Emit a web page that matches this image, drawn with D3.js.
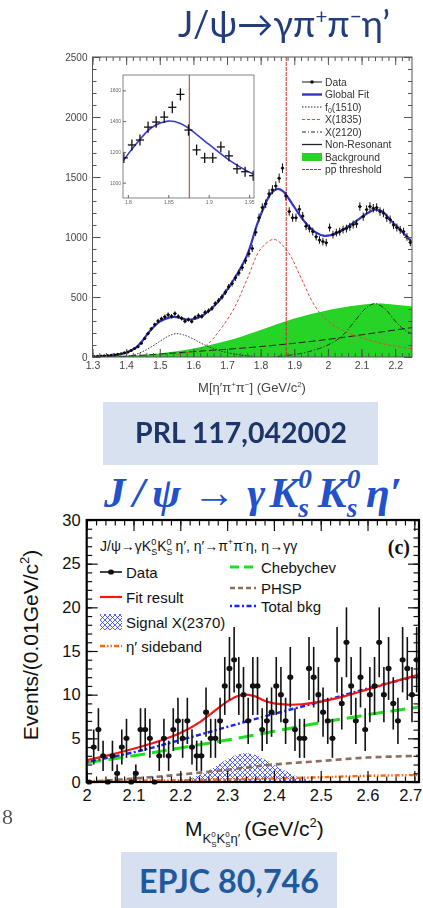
<!DOCTYPE html>
<html>
<head>
<meta charset="utf-8">
<script src="https://cdn.jsdelivr.net/npm/d3@7/dist/d3.min.js"></script>
<style>
html,body{margin:0;padding:0;background:#fff;}
svg{display:block;}
</style>
</head>
<body>
<svg id="page" width="423" height="908"></svg>
<script>
// ---------------- J/psi -> gamma pi+ pi- eta' (events per 10 MeV) ----------------
const ppeBinLow = 1.30;
const ppeBinWidth = 0.01;
const ppeCounts = [
  5, 6, 8, 10, 12, 14, 18, 22, 28, 35,
  42, 55, 70, 85, 115, 155, 195, 235, 270, 300,
  318, 335, 352, 340, 362, 338, 322, 298, 312, 296,
  330, 345, 338, 372, 385, 405, 445, 470, 500, 540,
  585, 612, 660, 700, 745, 805, 860, 905, 1040, 1161,
  1245, 1277, 1361, 1394, 1426, 1490, 1574, 1342, 1213, 1161,
  1161, 1232, 1174, 1090, 1071, 1045, 1003, 975, 962, 953,
  1079, 1020, 1037, 1045, 1062, 1070, 1085, 1104, 1110, 1254,
  1170, 1229, 1254, 1240, 1246, 1212, 1200, 1160, 1145, 1100,
  1079, 1060, 1045, 1000, 955
];
const globalFitMass = [1.30,1.35,1.40,1.43,1.45,1.47,1.50,1.53,1.55,1.58,1.60,1.63,1.66,1.70,1.73,1.76,1.79,1.81,1.83,1.85,1.865,1.876,1.90,1.93,1.96,1.99,2.02,2.05,2.08,2.11,2.14,2.16,2.19,2.22,2.25];
const globalFitEvents = [0,8,35,80,140,215,295,330,333,312,316,350,420,560,690,850,1110,1250,1360,1400,1385,1350,1250,1130,1045,1010,1025,1070,1125,1185,1228,1215,1130,1045,955];
const f0Mass = [1.38,1.42,1.46,1.50,1.53,1.55,1.57,1.60,1.63,1.67,1.72,1.78];
const f0Events = [0,15,60,130,180,195,185,150,105,60,25,5];
const x1835Mass = [1.55,1.60,1.64,1.68,1.72,1.76,1.80,1.84,1.88,1.92,1.96,2.00,2.05,2.10,2.15,2.20,2.25];
const x1835Events = [20,50,100,230,400,650,900,980,880,660,430,300,215,160,120,90,70];
const x2120Mass = [1.85,1.90,1.95,2.00,2.04,2.08,2.11,2.14,2.17,2.20,2.23,2.25];
const x2120Events = [5,20,50,100,170,300,400,445,400,300,220,195];
const nonResMass = [1.35,1.45,1.55,1.65,1.75,1.85,1.95,2.05,2.15,2.25];
const nonResEvents = [0,15,35,55,75,100,130,165,205,245];
const bkgMass = [1.30,1.40,1.50,1.60,1.70,1.80,1.90,2.00,2.10,2.15,2.20,2.25];
const bkgEvents = [0,10,30,70,135,225,320,390,435,445,435,420];
const ppbarThreshold = 1.876;

const ppeXTicks = [1.3,1.4,1.5,1.6,1.7,1.8,1.9,2.0,2.1,2.2];
const ppeXTickLabels = ["1.3","1.4","1.5","1.6","1.7","1.8","1.9","2","2.1","2.2"];
const ppeYTicks = [0,500,1000,1500,2000,2500];
const insetXTicks = [1.8,1.85,1.9,1.95];
const insetXTickLabels = ["1.8","1.85","1.9","1.95"];
const insetYTicks = [1000,1200,1400,1600];
const ppeLegendLabels = ["Data","Global Fit","f0(1510)","X(1835)","X(2120)","Non-Resonant","Background","pp threshold"];

// ---------------- J/psi -> gamma Ks Ks eta' (events per 10 MeV) ----------------
const kkeBinLow = 2.0;
const kkeBinWidth = 0.01;
const kkeCounts = [
  0, 4, 6, 3, 0, 3, 1, 4, 5, 0,
  1, 6, 6, 5, 0, 3, 5, 3, 6, 7,
  5, 7, 4, 3, 3, 8, 5, 5, 7, 11,
  13, 14, 11, 10, 7, 11, 11, 6, 7, 8,
  11, 10, 7, 12, 6, 5, 5, 13, 12, 10,
  8, 7, 5, 14, 9, 16, 11, 7, 12, 6,
  10, 11, 16, 10, 13, 9, 7, 14, 13, 10,
  14
];
const fitResultMass = [2.00,2.05,2.10,2.15,2.20,2.24,2.27,2.30,2.32,2.34,2.36,2.38,2.40,2.43,2.46,2.50,2.55,2.60,2.65,2.71];
const fitResultEvents = [2.5,3.1,3.8,4.6,5.6,6.8,8.0,9.2,9.8,10.0,9.8,9.3,9.0,8.85,8.9,9.2,9.8,10.6,11.4,12.3];
const totalBkgMass = [2.0,2.1,2.2,2.3,2.4,2.5,2.6,2.71];
const totalBkgEvents = [2.3,3.4,4.8,6.3,7.8,9.2,10.7,12.2];
const chebyMass = [2.0,2.1,2.2,2.3,2.4,2.5,2.6,2.71];
const chebyEvents = [2.2,3.0,3.9,4.8,5.8,6.8,7.7,8.6];
const phspMass = [2.0,2.05,2.1,2.15,2.2,2.3,2.4,2.5,2.6,2.71];
const phspEvents = [0,0.2,0.4,0.6,0.85,1.4,2.0,2.4,2.8,3.0];
const sidebandMass = [2.0,2.1,2.2,2.3,2.4,2.5,2.6,2.71];
const sidebandEvents = [0.1,0.15,0.2,0.3,0.4,0.55,0.7,0.8];
const signalMass = [2.18,2.22,2.26,2.29,2.32,2.34,2.36,2.39,2.42,2.45,2.48,2.50];
const signalEvents = [0,0.4,1.3,2.3,3.1,3.3,3.1,2.3,1.4,0.6,0.15,0];

const kkeXTicks = [2.0,2.1,2.2,2.3,2.4,2.5,2.6,2.7];
const kkeXTickLabels = ["2","2.1","2.2","2.3","2.4","2.5","2.6","2.7"];
const kkeYTicks = [0,5,10,15,20,25,30];

// ---------------- helpers ----------------
const svg = d3.select('#page');
const defs = svg.append('defs');
defs.append('filter').attr('id','soft').attr('x','-2%').attr('y','-2%').attr('width','104%').attr('height','104%')
  .append('feGaussianBlur').attr('stdDeviation',0.65);
defs.append('filter').attr('id','softer')
  .append('feGaussianBlur').attr('stdDeviation',0.4);
const hatch = defs.append('pattern').attr('id','xhatch').attr('patternUnits','userSpaceOnUse')
  .attr('width',5).attr('height',5);
hatch.append('path').attr('d','M0,0L5,5M5,0L0,5M-1,4L1,6M4,-1L6,1').attr('stroke','#2a3cff').attr('stroke-width',0.8);

const zip = (a, b) => a.map((v, i) => [v, b[i]]);
const smooth = d3.curveCatmullRom.alpha(0.5);

// Draws a run of text pieces left to right; pieces may be raised, lowered or stacked (sup over sub).
// With base.width set, the whole run is scaled to span that width.
function rich(parent, x, y, parts, base, anchor) {
  const g = parent.append('g')
    .attr('font-family', base.family).attr('font-size', base.size)
    .attr('fill', base.fill || '#000');
  if (base.weight) g.attr('font-weight', base.weight);
  if (base.style) g.attr('font-style', base.style);
  let cx = 0;
  parts.forEach(p => {
    if (p.sup !== undefined || p.sub !== undefined) {
      let w = 0;
      if (p.sup !== undefined) {
        const e = g.append('text').attr('x', cx).attr('y', p.supY).attr('font-size', p.size).text(p.sup);
        if (p.supStyle) e.attr('font-style', p.supStyle);
        w = Math.max(w, e.node().getComputedTextLength());
      }
      if (p.sub !== undefined) {
        const e = g.append('text').attr('x', cx).attr('y', p.subY).attr('font-size', p.size).text(p.sub);
        if (p.subStyle) e.attr('font-style', p.subStyle);
        w = Math.max(w, e.node().getComputedTextLength());
      }
      cx += w + (p.gap || 0);
    } else {
      const e = g.append('text').attr('x', cx).attr('y', p.dy || 0).text(p.t);
      if (p.size) e.attr('font-size', p.size);
      if (p.style) e.attr('font-style', p.style);
      if (p.weight) e.attr('font-weight', p.weight);
      if (p.deco) e.attr('text-decoration', p.deco);
      cx += e.node().getComputedTextLength() + (p.gap || 0);
    }
  });
  const k = base.width ? base.width / cx : 1;
  const w = cx * k;
  const off = anchor === 'middle' ? -w / 2 : anchor === 'end' ? -w : 0;
  g.attr('transform', `translate(${x + off},${y}) scale(${k})`);
  return g;
}

// Sets a text's font size so that it spans the given width.
function fitWidth(textSel, width) {
  const fs = parseFloat(textSel.attr('font-size'));
  const w = textSel.node().getComputedTextLength();
  textSel.attr('font-size', (fs * width / w).toFixed(2));
}

function cleanAxis(sel, color, size, family) {
  sel.select('.domain').remove();
  sel.attr('font-family', null).attr('font-size', null);
  sel.selectAll('line').attr('stroke', color);
  sel.selectAll('text').attr('fill', color).attr('font-size', size).attr('font-family', family);
}

// ---------------- heading ----------------
rich(svg, 284, 37, [
  {t:'J/ψ→γπ'}, {t:'+', size:17, dy:-11}, {t:'π'}, {t:'−', size:17, dy:-11}, {t:'η’'}
], {family:'Lato', size:30, fill:'#213c7c', width:212}, 'middle').attr('filter','url(#softer)');

// ---------------- upper plot: M(eta' pi+ pi-) ----------------
const T = {l:92.5, r:412, t:57, b:357};
const xT = d3.scaleLinear().domain([1.3, 2.25]).range([T.l, T.r]);
const yT = d3.scaleLinear().domain([0, 2500]).range([T.b, T.t]);
const gT = svg.append('g').attr('filter','url(#soft)');
defs.append('clipPath').attr('id','clipT').append('rect')
  .attr('x',T.l).attr('y',T.t).attr('width',T.r-T.l).attr('height',T.b-T.t);
const plotT = gT.append('g').attr('clip-path','url(#clipT)');
const lineT = d3.line().x(d => xT(d[0])).y(d => yT(d[1])).curve(smooth);

plotT.append('path').datum(zip(bkgMass, bkgEvents))
  .attr('d', d3.area().x(d => xT(d[0])).y0(yT(0)).y1(d => yT(d[1])).curve(smooth))
  .attr('fill', '#25d325');
plotT.append('path').datum(zip(nonResMass, nonResEvents)).attr('d', lineT)
  .attr('fill','none').attr('stroke','#222').attr('stroke-width',1).attr('stroke-dasharray','7,3');
plotT.append('path').datum(zip(x2120Mass, x2120Events)).attr('d', lineT)
  .attr('fill','none').attr('stroke','#222').attr('stroke-width',0.9).attr('stroke-dasharray','5,2,1,2');
plotT.append('path').datum(zip(f0Mass, f0Events)).attr('d', lineT)
  .attr('fill','none').attr('stroke','#222').attr('stroke-width',0.9).attr('stroke-dasharray','1.5,1.5');
plotT.append('path').datum(zip(x1835Mass, x1835Events)).attr('d', lineT)
  .attr('fill','none').attr('stroke','#e04848').attr('stroke-width',1).attr('stroke-dasharray','3,2');
plotT.append('line').attr('x1',xT(ppbarThreshold)).attr('x2',xT(ppbarThreshold))
  .attr('y1',T.t).attr('y2',T.b).attr('stroke','#d42a2a').attr('stroke-width',1).attr('stroke-dasharray','4,1');
plotT.append('path').datum(zip(globalFitMass, globalFitEvents)).attr('d', lineT)
  .attr('fill','none').attr('stroke','#3434c8').attr('stroke-width',2.2);

const ppeData = ppeCounts.map((n, i) => ({m: ppeBinLow + (i + 0.5) * ppeBinWidth, n}));
const pts = plotT.append('g').attr('stroke','#111').attr('stroke-width',1);
ppeData.forEach(d => {
  const e = Math.sqrt(d.n);
  pts.append('line').attr('x1',xT(d.m)).attr('x2',xT(d.m)).attr('y1',yT(d.n - e)).attr('y2',yT(d.n + e));
  pts.append('line').attr('x1',xT(d.m - ppeBinWidth/2)).attr('x2',xT(d.m + ppeBinWidth/2)).attr('y1',yT(d.n)).attr('y2',yT(d.n));
  pts.append('circle').attr('cx',xT(d.m)).attr('cy',yT(d.n)).attr('r',1.5).attr('fill','#111').attr('stroke','none');
});

// axes: major and minor ticks on all four sides, pointing inward
const tickCol = '#555';
const yMinor = d3.range(0, 2501, 100);
const xMinor = d3.range(1.30, 2.2501, 0.02);
gT.append('g').attr('transform',`translate(${T.l},0)`)
  .call(d3.axisLeft(yT).tickValues(ppeYTicks).tickSize(-8).tickPadding(5).tickFormat(d3.format('d')))
  .call(s => cleanAxis(s, '#444', 10, 'Liberation Sans, Arial, sans-serif'));
gT.append('g').attr('transform',`translate(${T.l},0)`)
  .call(d3.axisLeft(yT).tickValues(yMinor).tickSize(-4).tickFormat(''))
  .call(s => cleanAxis(s, tickCol, 10, 'sans-serif'));
gT.append('g').attr('transform',`translate(${T.r},0)`)
  .call(d3.axisRight(yT).tickValues(ppeYTicks).tickSize(-8).tickFormat(''))
  .call(s => cleanAxis(s, tickCol, 10, 'sans-serif'));
gT.append('g').attr('transform',`translate(${T.r},0)`)
  .call(d3.axisRight(yT).tickValues(yMinor).tickSize(-4).tickFormat(''))
  .call(s => cleanAxis(s, tickCol, 10, 'sans-serif'));
gT.append('g').attr('transform',`translate(0,${T.b})`)
  .call(d3.axisBottom(xT).tickValues(ppeXTicks).tickSize(-8).tickPadding(5).tickFormat((d, i) => ppeXTickLabels[i]))
  .call(s => cleanAxis(s, '#444', 10.5, 'Liberation Sans, Arial, sans-serif'));
gT.append('g').attr('transform',`translate(0,${T.b})`)
  .call(d3.axisBottom(xT).tickValues(xMinor).tickSize(-4).tickFormat(''))
  .call(s => cleanAxis(s, tickCol, 10, 'sans-serif'));
gT.append('g').attr('transform',`translate(0,${T.t})`)
  .call(d3.axisTop(xT).tickValues(ppeXTicks).tickSize(-8).tickFormat(''))
  .call(s => cleanAxis(s, tickCol, 10, 'sans-serif'));
gT.append('g').attr('transform',`translate(0,${T.t})`)
  .call(d3.axisTop(xT).tickValues(xMinor).tickSize(-4).tickFormat(''))
  .call(s => cleanAxis(s, tickCol, 10, 'sans-serif'));
gT.append('rect').attr('x',T.l).attr('y',T.t).attr('width',T.r-T.l).attr('height',T.b-T.t)
  .attr('fill','none').attr('stroke','#555').attr('stroke-width',1);

rich(gT, 252, 392, [
  {t:'M[η′π'}, {t:'+', size:8, dy:-5}, {t:'π'}, {t:'−', size:8, dy:-5}, {t:']\u00a0(GeV/c'}, {t:'2', size:8, dy:-5}, {t:')'}
], {family:'Liberation Sans, Arial, sans-serif', size:13, fill:'#444'}, 'middle');

// inset: zoom around the p-pbar threshold
const I = {l:123, r:254, t:75, b:198};
const xI = d3.scaleLinear().domain([1.794, 1.956]).range([I.l, I.r]);
const yI = d3.scaleLinear().domain([900, 1700]).range([I.b, I.t]);
defs.append('clipPath').attr('id','clipI').append('rect')
  .attr('x',I.l).attr('y',I.t).attr('width',I.r-I.l).attr('height',I.b-I.t);
gT.append('rect').attr('x',I.l).attr('y',I.t).attr('width',I.r-I.l).attr('height',I.b-I.t).attr('fill','#fff');
const plotI = gT.append('g').attr('clip-path','url(#clipI)');
plotI.append('line').attr('x1',xI(ppbarThreshold)).attr('x2',xI(ppbarThreshold))
  .attr('y1',I.t).attr('y2',I.b).attr('stroke','#d42a2a').attr('stroke-width',1);
plotI.append('path').datum(zip(globalFitMass, globalFitEvents))
  .attr('d', d3.line().x(d => xI(d[0])).y(d => yI(d[1])).curve(smooth))
  .attr('fill','none').attr('stroke','#3a3ad0').attr('stroke-width',1.6);
const ipts = plotI.append('g').attr('stroke','#111').attr('stroke-width',1.3);
ppeData.filter(d => d.m > 1.78 && d.m < 1.97).forEach(d => {
  const e = Math.sqrt(d.n);
  ipts.append('line').attr('x1',xI(d.m)).attr('x2',xI(d.m)).attr('y1',yI(d.n - e)).attr('y2',yI(d.n + e));
  ipts.append('line').attr('x1',xI(d.m - ppeBinWidth/2)).attr('x2',xI(d.m + ppeBinWidth/2)).attr('y1',yI(d.n)).attr('y2',yI(d.n));
});
gT.append('g').attr('transform',`translate(${I.l},0)`)
  .call(d3.axisLeft(yI).tickValues(insetYTicks).tickSize(-3).tickPadding(2).tickFormat(d3.format('d')))
  .call(s => cleanAxis(s, '#666', 5, 'Liberation Sans, Arial, sans-serif'));
gT.append('g').attr('transform',`translate(0,${I.b})`)
  .call(d3.axisBottom(xI).tickValues(insetXTicks).tickSize(-3).tickPadding(2).tickFormat((d, i) => insetXTickLabels[i]))
  .call(s => cleanAxis(s, '#666', 5, 'Liberation Sans, Arial, sans-serif'));
gT.append('rect').attr('x',I.l).attr('y',I.t).attr('width',I.r-I.l).attr('height',I.b-I.t)
  .attr('fill','none').attr('stroke','#666').attr('stroke-width',0.8);

// legend
const lgFam = 'Liberation Sans, Arial, sans-serif';
const lgT = gT.append('g').attr('font-family',lgFam).attr('font-size',10.3).attr('fill','#333');
const lgY = [82, 94.5, 107, 119.5, 132, 144.5, 157, 169.5];
const lgX0 = 302, lgX1 = 322;
const lgStyles = [null,
  {c:'#3434c8', w:2.4, d:null},
  {c:'#222', w:1, d:'1.5,1.5'},
  {c:'#e04848', w:1.1, d:'3,2'},
  {c:'#222', w:1, d:'4,2,1,2'},
  {c:'#222', w:1.3, d:null},
  null,
  {c:'#d42a2a', w:1, d:'3,1'}];
ppeLegendLabels.forEach((lab, k) => {
  const y = lgY[k];
  const row = lgT.append('g');
  if (k === 0) {
    row.append('line').attr('x1',lgX0).attr('x2',lgX1).attr('y1',y).attr('y2',y).attr('stroke','#111').attr('stroke-width',1);
    row.append('circle').attr('cx',(lgX0+lgX1)/2).attr('cy',y).attr('r',1.8).attr('fill','#111');
  } else if (k === 6) {
    row.append('rect').attr('x',lgX0).attr('y',y-4).attr('width',lgX1-lgX0).attr('height',8).attr('fill','#25d325');
  } else {
    const st = lgStyles[k];
    row.append('line').attr('x1',lgX0).attr('x2',lgX1).attr('y1',y).attr('y2',y)
      .attr('stroke',st.c).attr('stroke-width',st.w).attr('stroke-dasharray',st.d);
  }
  if (k === 2) {
    rich(row, 325, y + 3.6, [{t:'f'}, {t:lab.slice(1, 2), size:7, dy:2}, {t:lab.slice(2)}], {family:lgFam, size:10.3, fill:'#333'});
  } else if (k === 7) {
    rich(row, 325, y + 3.6, [{t:'p'}, {t:'p', deco:'overline'}, {t:'\u00a0threshold'}], {family:lgFam, size:10.3, fill:'#333'});
  } else {
    row.append('text').attr('x',325).attr('y',y + 3.6).text(lab);
  }
});

// reference box
svg.append('rect').attr('x',103).attr('y',402).attr('width',275).attr('height',63).attr('fill','#d8e1f0');
const prl = svg.append('text').attr('x',241).attr('y',443).attr('text-anchor','middle')
  .attr('font-family','Lato').attr('font-weight','bold').attr('font-size',24).attr('fill','#1f3466')
  .attr('filter','url(#softer)').text('PRL 117,042002');
fitWidth(prl, 212);

// ---------------- second heading ----------------
const sFam = 'Liberation Serif, Times New Roman, serif';
rich(svg, 253, 507, [
  {t:'J', gap:5}, {t:'/', gap:5}, {t:'ψ', gap:8}, {t:'→', style:'normal', gap:8}, {t:'γ', gap:3},
  {t:'K'}, {sup:'0', sub:'s', size:19, supY:-13, subY:7, gap:4},
  {t:'K'}, {sup:'0', sub:'s', size:19, supY:-13, subY:7, gap:4},
  {t:'η′'}
], {family:sFam, size:30, fill:'#2251c9', weight:'bold', style:'italic', width:298}, 'middle');

// ---------------- lower plot: M(Ks Ks eta') ----------------
const B = {l:86.7, r:419, t:520, b:782};
const xB = d3.scaleLinear().domain([2.0, 2.71]).range([B.l, B.r]);
const yB = d3.scaleLinear().domain([0, 30]).range([B.b, B.t]);
const gB = svg.append('g');
defs.append('clipPath').attr('id','clipB').append('rect')
  .attr('x',B.l).attr('y',B.t).attr('width',B.r-B.l).attr('height',B.b-B.t);
const plotB = gB.append('g').attr('clip-path','url(#clipB)');
const lineB = d3.line().x(d => xB(d[0])).y(d => yB(d[1])).curve(smooth);

plotB.append('path').datum(zip(signalMass, signalEvents))
  .attr('d', d3.area().x(d => xB(d[0])).y0(yB(0)).y1(d => yB(d[1])).curve(smooth))
  .attr('fill','url(#xhatch)');
plotB.append('path').datum(zip(sidebandMass, sidebandEvents)).attr('d', lineB)
  .attr('fill','none').attr('stroke','#ff6a10').attr('stroke-width',2.4).attr('stroke-dasharray','5,2,1.5,2,1.5,2');
plotB.append('path').datum(zip(phspMass, phspEvents)).attr('d', lineB)
  .attr('fill','none').attr('stroke','#8c6e5e').attr('stroke-width',2.6).attr('stroke-dasharray','6,4');
plotB.append('path').datum(zip(chebyMass, chebyEvents)).attr('d', lineB)
  .attr('fill','none').attr('stroke','#1fe01f').attr('stroke-width',3).attr('stroke-dasharray','15,7');
plotB.append('path').datum(zip(totalBkgMass, totalBkgEvents)).attr('d', lineB)
  .attr('fill','none').attr('stroke','#1a22ff').attr('stroke-width',2.4).attr('stroke-dasharray','2,2.5,5,2.5');
plotB.append('path').datum(zip(fitResultMass, fitResultEvents)).attr('d', lineB)
  .attr('fill','none').attr('stroke','#ff1414').attr('stroke-width',2.2);

const kkeData = kkeCounts.map((n, i) => ({m: kkeBinLow + (i + 0.5) * kkeBinWidth, n}));
const bpts = gB.append('g').attr('stroke','#111').attr('stroke-width',1.6);
kkeData.forEach(d => {
  if (d.n > 0) {
    const e = Math.sqrt(d.n);
    bpts.append('line').attr('x1',xB(d.m)).attr('x2',xB(d.m)).attr('y1',yB(d.n - e)).attr('y2',yB(d.n + e));
  }
  bpts.append('ellipse').attr('cx',xB(d.m)).attr('cy',yB(d.n)).attr('rx',3).attr('ry',2.6).attr('fill','#111').attr('stroke','none');
});

const bFont = 'Liberation Sans, Arial, sans-serif';
const yMinorB = d3.range(0, 31, 1);
const xMinorB = d3.range(2.0, 2.7101, 0.02);
gB.append('g').attr('transform',`translate(${B.l},0)`)
  .call(d3.axisLeft(yB).tickValues(kkeYTicks).tickSize(-11).tickPadding(6).tickFormat(d3.format('d')))
  .call(s => cleanAxis(s, '#111', 16.5, bFont));
gB.append('g').attr('transform',`translate(${B.l},0)`)
  .call(d3.axisLeft(yB).tickValues(yMinorB).tickSize(-5.5).tickFormat(''))
  .call(s => cleanAxis(s, '#111', 10, bFont));
gB.append('g').attr('transform',`translate(${B.r},0)`)
  .call(d3.axisRight(yB).tickValues(kkeYTicks).tickSize(-11).tickFormat(''))
  .call(s => cleanAxis(s, '#111', 10, bFont));
gB.append('g').attr('transform',`translate(${B.r},0)`)
  .call(d3.axisRight(yB).tickValues(yMinorB).tickSize(-5.5).tickFormat(''))
  .call(s => cleanAxis(s, '#111', 10, bFont));
const xAxB = gB.append('g').attr('transform',`translate(0,${B.b})`)
  .call(d3.axisBottom(xB).tickValues(kkeXTicks).tickSize(-11).tickPadding(7).tickFormat((d, i) => kkeXTickLabels[i]))
  .call(s => cleanAxis(s, '#111', 16.5, bFont));
// keep the last label inside the page edge
xAxB.selectAll('.tick text').filter((d, i) => i === kkeXTicks.length - 1).attr('dx', -4);
gB.append('g').attr('transform',`translate(0,${B.b})`)
  .call(d3.axisBottom(xB).tickValues(xMinorB).tickSize(-5.5).tickFormat(''))
  .call(s => cleanAxis(s, '#111', 10, bFont));
gB.append('g').attr('transform',`translate(0,${B.t})`)
  .call(d3.axisTop(xB).tickValues(kkeXTicks).tickSize(-11).tickFormat(''))
  .call(s => cleanAxis(s, '#111', 10, bFont));
gB.append('g').attr('transform',`translate(0,${B.t})`)
  .call(d3.axisTop(xB).tickValues(xMinorB).tickSize(-5.5).tickFormat(''))
  .call(s => cleanAxis(s, '#111', 10, bFont));
gB.selectAll('.tick line').attr('stroke-width',1.2);
gB.append('rect').attr('x',B.l).attr('y',B.t).attr('width',B.r-B.l).attr('height',B.b-B.t)
  .attr('fill','none').attr('stroke','#000').attr('stroke-width',2.2);

// process label and panel tag
rich(gB, 100, 551, [
  {t:'J/ψ→γK'}, {sup:'0', sub:'S', size:9, supY:-6, subY:4},
  {t:'K'}, {sup:'0', sub:'S', size:9, supY:-6, subY:4, gap:3},
  {t:'η′, η′→π'}, {t:'+', size:9, dy:-6}, {t:'π'}, {t:'-', size:9, dy:-6}, {t:'η, η→γγ'}
], {family:bFont, size:14, fill:'#111'});
gB.append('text').attr('x',410).attr('y',554).attr('text-anchor','end')
  .attr('font-family','Liberation Serif, Times New Roman, serif').attr('font-weight','bold').attr('font-size',20)
  .attr('fill','#111').text('(c)');

// legend
const lgB = gB.append('g').attr('font-family',bFont).attr('font-size',15).attr('fill','#111');
lgB.append('line').attr('x1',100).attr('x2',122).attr('y1',572).attr('y2',572).attr('stroke','#111').attr('stroke-width',1.6);
lgB.append('ellipse').attr('cx',111).attr('cy',572).attr('rx',3).attr('ry',2.6).attr('fill','#111');
lgB.append('text').attr('x',126).attr('y',577.5).text('Data');
lgB.append('line').attr('x1',100).attr('x2',122).attr('y1',597).attr('y2',597).attr('stroke','#ff1414').attr('stroke-width',2.2);
lgB.append('text').attr('x',126).attr('y',603).text('Fit result');
lgB.append('rect').attr('x',100).attr('y',614).attr('width',22).attr('height',16).attr('fill','url(#xhatch)');
lgB.append('text').attr('x',126).attr('y',627.5).text('Signal X(2370)');
lgB.append('line').attr('x1',100).attr('x2',122).attr('y1',646).attr('y2',646).attr('stroke','#ff6a10').attr('stroke-width',2.4).attr('stroke-dasharray','5,2,1.5,2,1.5,2');
lgB.append('text').attr('x',126).attr('y',652).text('η′ sideband');
lgB.append('line').attr('x1',230).attr('x2',256).attr('y1',567).attr('y2',567).attr('stroke','#1fe01f').attr('stroke-width',3).attr('stroke-dasharray','9,5');
lgB.append('text').attr('x',261).attr('y',572.5).text('Chebychev');
lgB.append('line').attr('x1',230).attr('x2',256).attr('y1',588).attr('y2',588).attr('stroke','#8c6e5e').attr('stroke-width',2.6).attr('stroke-dasharray','5,3');
lgB.append('text').attr('x',261).attr('y',593.5).text('PHSP');
lgB.append('line').attr('x1',230).attr('x2',256).attr('y1',606).attr('y2',606).attr('stroke','#1a22ff').attr('stroke-width',2.4).attr('stroke-dasharray','2,2.5,5,2.5');
lgB.append('text').attr('x',261).attr('y',611.5).text('Total bkg');

// axis titles
rich(gB, 185, 836, [
  {t:'M'},
  {t:'K', size:13, dy:7}, {sup:'0', sub:'S', size:8, supY:1, subY:11},
  {t:'K', size:13, dy:7}, {sup:'0', sub:'S', size:8, supY:1, subY:11},
  {t:'η′', size:13, dy:7, gap:4},
  {t:'(GeV/c'}, {t:'2', size:13, dy:-9}, {t:')'}
], {family:bFont, size:21, fill:'#111'});

const yt = rich(gB, 0, 0, [
  {t:'Events/(0.01GeV/c'}, {t:'2', size:13, dy:-9}, {t:')'}
], {family:bFont, size:21, fill:'#111'}, 'middle');
yt.attr('transform', `translate(38,645) rotate(-90) ${yt.attr('transform')}`);

// stray page number at the lower-left margin
svg.append('text').attr('x',2).attr('y',824).attr('font-family','Liberation Serif, serif').attr('font-size',22)
  .attr('fill','#555').attr('filter','url(#softer)').text('8');

// reference box
svg.append('rect').attr('x',121).attr('y',852).attr('width',216).attr('height',56).attr('fill','#d6e0f0');
const epjc = svg.append('text').attr('x',229).attr('y',893).attr('text-anchor','middle')
  .attr('font-family','Lato').attr('font-weight','bold').attr('font-size',28).attr('fill','#1f5a9e')
  .text('EPJC 80,746');
fitWidth(epjc, 180);
</script>
</body>
</html>
